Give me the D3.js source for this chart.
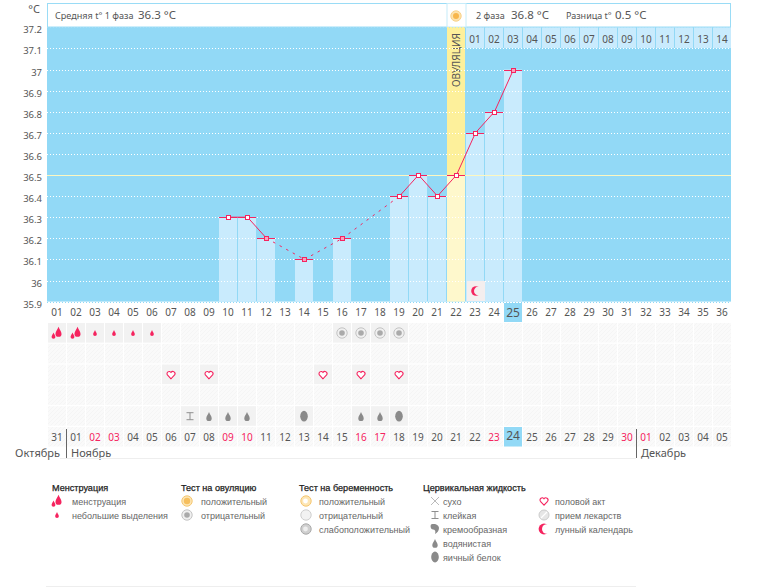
<!DOCTYPE html>
<html><head><meta charset="utf-8">
<script src="https://cdn.jsdelivr.net/npm/d3@7"></script>
<style>
html,body{margin:0;padding:0;background:#fff}
svg{display:block}
text{font-family:"Noto Sans",sans-serif;fill:#555}
.lg{font-family:"Liberation Sans",sans-serif;font-size:9px;fill:#666}
.lt{font-family:"Liberation Sans",sans-serif;font-size:9.1px;fill:#222;stroke:#222;stroke-width:.25px}
</style></head><body>
<svg id="c" width="769" height="587"></svg>
<script>
const cycleDays = d3.range(1, 37);
const temps = [null,null,null,null,null,null,null,null,null,36.3,36.3,36.2,null,36.1,null,36.2,null,null,36.4,36.5,36.4,36.5,36.7,36.8,37.0];
const filledMarkers = [12,14,16,25];
const yTicks = [37.2,37.1,37,36.9,36.8,36.7,36.6,36.5,36.4,36.3,36.2,36.1,36,35.9];
const secondPhaseLabels = ["01","02","03","04","05","06","07","08","09","10","11","12","13","14"];
const calendarLabels = ["31","01","02","03","04","05","06","07","08","09","10","11","12","13","14","15","16","17","18","19","20","21","22","23","24","25","26","27","28","29","30","01","02","03","04","05"];
const redCalendarCols = [3,4,10,11,17,18,24,31,32];
const ovulationDay = 22, today = 25, moonDay = 23;
const menstruationHeavy = [1,2], menstruationLight = [3,4,5,6];
const ovulationNegative = [16,17,18,19];
const intercourse = [7,9,15,17,19];
const sticky = [8], watery = [9,10,11,17,18], eggWhite = [14,19];
const months = [["Октябрь",60,"end"],["Ноябрь",71,"start"],["Декабрь",641,"start"]];
const monthDividerCols = [1.5,31.5];

const svg = d3.select("#c");
const x = d3.scaleLinear().domain([1,36]).range([57,722]);
const y = d3.scaleLinear().domain([37,36.5]).range([69.5,175]);
const colW = 18, plotLeft = 47, plotRight = 731, plotTop = 27, base = y(35.9);
const rowY = d3.scaleLinear().domain([0,1]).range([323,343.8]);
const pink = "#f5245f", blue = "#92d9f6", light = "#c9ebfd";

// icons
const defs = svg.append("defs");
const pat = defs.append("pattern").attr("id","hatch").attr("width",4).attr("height",4).attr("patternUnits","userSpaceOnUse");
pat.append("rect").attr("width",4).attr("height",4).attr("fill","#fafafa");
pat.append("path").attr("d","M0 4L4 0").attr("stroke","#f5f5f5").attr("stroke-width",1);
const drop = (cx,cy,s)=>`M${cx} ${cy-6*s}C${cx+1*s} ${cy-3*s} ${cx+3.2*s} ${cy-1*s} ${cx+3.2*s} ${cy+1.5*s}A${3.2*s} ${3*s} 0 0 1 ${cx-3.2*s} ${cy+1.5*s}C${cx-3.2*s} ${cy-1*s} ${cx-1*s} ${cy-3*s} ${cx} ${cy-6*s}Z`;
const icons = {
  heavy:g=>{g.append("path").attr("d",drop(1.5,-.5,.95)).attr("fill",pink);g.append("path").attr("d",drop(-3.5,3,.6)).attr("fill",pink);},
  light:g=>g.append("path").attr("d",drop(0,0.5,.58)).attr("fill",pink),
  ovNeg:g=>{g.append("circle").attr("r",5.2).attr("fill","#f0f0f0").attr("stroke","#c4c4c4");g.append("circle").attr("r",2.8).attr("fill","#aaa");},
  ovPos:g=>{g.append("circle").attr("r",5.2).attr("fill","#fde6b5").attr("stroke","#f5c670");g.append("circle").attr("r",3.2).attr("fill","#f6bf5e");},
  heart:g=>g.append("path").attr("d","M0 4.2L-3.6 .3A2.1 2.1 0 0 1 0 -2.2A2.1 2.1 0 0 1 3.6 .3Z").attr("fill","#fff").attr("stroke",pink).attr("stroke-width",1.1),
  sticky:g=>g.append("path").attr("d","M-3.5 -3.5H3.5M-3.5 3.5H3.5M0 -3.5V3.5").attr("stroke","#8f8f8f").attr("fill","none"),
  watery:g=>g.append("path").attr("d",drop(0,1,.85)).attr("fill","#8a8a8a"),
  egg:g=>g.append("ellipse").attr("rx",3.8).attr("ry",5.4).attr("fill","#8a8a8a"),
  dry:g=>g.append("path").attr("d","M-4 -4L4 4M4 -4L-4 4").attr("stroke","#aaa").attr("fill","none").attr("stroke-width",.8),
  creamy:g=>g.append("path").attr("d","M-4 -4.5C0 -6 4 -4 4 -1C4 2 2 4 0 5C1 2 0 .5 -2 .5C-4 .5 -5 -2.5 -4 -4.5Z").attr("fill","#8a8a8a"),
  moon:g=>{g.append("circle").attr("r",4.8).attr("fill",pink);g.append("circle").attr("cx",2.4).attr("r",4.4).attr("fill","#f4eeee");},
  moonL:g=>{g.append("circle").attr("r",5.4).attr("fill",pink);g.append("circle").attr("cx",2.8).attr("r",4.8).attr("fill","#fff");},
  pill:g=>{g.append("circle").attr("r",5).attr("fill","#e6e6e6").attr("stroke","#ccc");g.append("path").attr("d","M-3 3L3 -3").attr("stroke","#fff").attr("stroke-width",1.2);},
  pregPos:g=>{g.append("circle").attr("r",5.2).attr("fill","#fde6b5").attr("stroke","#f5c670");g.append("circle").attr("cx",-.5).attr("r",2.4).attr("fill","#fff");},
  pregNeg:g=>{g.append("circle").attr("r",5.2).attr("fill","#f2f2f2").attr("stroke","#cfcfcf");},
  pregWeak:g=>{g.append("circle").attr("r",5.2).attr("fill","#cfcfcf").attr("stroke","#aaa");g.append("circle").attr("cx",-.5).attr("r",2.4).attr("fill","#eee");},
  sun:g=>{g.append("circle").attr("r",5.2).attr("fill","#fde3ad").attr("stroke","#f8d28a");g.append("circle").attr("r",3).attr("fill","#f7b64c");}
};
const place = (name,px,py)=>{const g=svg.append("g").attr("transform",`translate(${px},${py})`);icons[name](g);};

// plot background and header
svg.append("rect").attr("x",plotLeft).attr("y",plotTop).attr("width",plotRight-plotLeft).attr("height",base-plotTop).attr("fill",blue);
svg.append("rect").attr("x",47.5).attr("y",3.5).attr("width",plotRight-plotLeft-1).attr("height",23.5).attr("fill","#fff").attr("stroke","#9adcf6");
svg.append("rect").attr("x",x(ovulationDay)-9).attr("y",3.5).attr("width",colW+1).attr("height",23.5).attr("fill","#fff").attr("stroke","#c6ecfa");
place("sun",x(ovulationDay),16);

// second-phase day header
svg.selectAll(".ph").data(secondPhaseLabels).join("rect")
  .attr("x",(d,i)=>x(ovulationDay+1+i)-9).attr("y",plotTop+.5).attr("width",colW).attr("height",20.5).attr("fill",light);
svg.selectAll(".phl").data(secondPhaseLabels).join("text")
  .attr("x",(d,i)=>x(ovulationDay+1+i)).attr("y",43).attr("text-anchor","middle").attr("font-size",10).text(d=>d);

// ovulation column
svg.append("rect").attr("x",x(ovulationDay)-9).attr("y",plotTop).attr("width",colW).attr("height",y(36.5)-plotTop).attr("fill","#fdf09b");
svg.append("rect").attr("x",x(ovulationDay)-9).attr("y",y(36.5)).attr("width",colW).attr("height",base-y(36.5)).attr("fill","#fef8cc");
svg.append("text").attr("transform",`translate(${x(ovulationDay)+3.5},33) rotate(-90)`).attr("text-anchor","end").attr("font-size",10).text("ОВУЛЯЦИЯ");

// bars
const pts = temps.map((t,i)=>({day:i+1,t})).filter(d=>d.t!==null);
svg.selectAll(".bar").data(pts.filter(d=>d.day!==ovulationDay)).join("rect")
  .attr("x",d=>x(d.day)-9).attr("y",d=>y(d.t)).attr("width",colW).attr("height",d=>base-y(d.t)).attr("fill",light);

// grid
svg.selectAll(".grid").data(yTicks).join("line")
  .attr("x1",plotLeft).attr("x2",plotRight).attr("y1",d=>Math.round(y(d))+.5).attr("y2",d=>Math.round(y(d))+.5)
  .attr("stroke",d=>d===37.2?"#a9e0f7":d===35.9?"#8fd8f6":"#fff").attr("stroke-width",1).attr("stroke-dasharray","1 2")
  .attr("opacity",d=>d===37.2?.8:1);
svg.append("line").attr("x1",plotLeft).attr("x2",plotRight).attr("y1",Math.round(y(36.5))+.5).attr("y2",Math.round(y(36.5))+.5).attr("stroke","#fdf7c0");

// moon cell
svg.append("rect").attr("x",x(moonDay)-8).attr("y",281).attr("width",18).attr("height",20).attr("fill","#f4eeee");
place("moon",x(moonDay)+1,291);

// y axis
const yAxis = d3.axisLeft(y).tickValues(yTicks).tickSize(0).tickPadding(0).tickFormat(d=>String(d));
const ax = svg.append("g").attr("transform","translate(42,2.5)").call(yAxis);
ax.select(".domain").remove();
ax.selectAll("text").attr("font-size",9.5);
svg.append("text").attr("x",40).attr("y",13).attr("text-anchor","end").attr("font-size",11).text("°C");

// line
const line = d3.line().x(d=>x(d.day)+.5).y(d=>y(d.t));
d3.pairs(pts).forEach(([a,b])=>{
  svg.append("path").attr("d",line([a,b])).attr("fill","none").attr("stroke",pink).attr("stroke-width",1)
    .attr("stroke-dasharray",b.day-a.day>1?"2.5 5":null);
});
svg.selectAll(".cap").data(pts).join("line")
  .attr("x1",d=>x(d.day)-9).attr("x2",d=>x(d.day)+9).attr("y1",d=>Math.round(y(d.t))+.5).attr("y2",d=>Math.round(y(d.t))+.5)
  .attr("stroke",pink);
svg.selectAll(".mk").data(pts).join("rect")
  .attr("x",d=>x(d.day)-1.5).attr("y",d=>Math.round(y(d.t))-1.5).attr("width",4).attr("height",4)
  .attr("fill",d=>filledMarkers.includes(d.day)?"#f9a0bc":"#fff").attr("stroke",pink);

// top date row
svg.append("rect").attr("x",x(today)-9).attr("y",303).attr("width",colW).attr("height",19).attr("fill",blue);
svg.selectAll(".d").data(cycleDays).join("text")
  .attr("x",d=>x(d)).attr("y",d=>d===today?317:316).attr("text-anchor","middle")
  .attr("font-size",d=>d===today?12:10).text(d=>String(d).padStart(2,"0"));

// event cells
const rows = d3.range(0,6);
rows.forEach(r=>{
  svg.selectAll(".cell"+r).data(cycleDays).join("rect")
    .attr("x",d=>x(d)-9).attr("y",rowY(r)).attr("width",colW).attr("height",19.5).attr("fill","url(#hatch)");
});
const events = [
  [menstruationHeavy,0,"heavy"],[menstruationLight,0,"light"],[ovulationNegative,0,"ovNeg"],
  [intercourse,2,"heart"],[sticky,4,"sticky"],[watery,4,"watery"],[eggWhite,4,"egg"]
];
events.forEach(([days,r,name])=>days.forEach(d=>{
  svg.append("rect").attr("x",x(d)-9).attr("y",rowY(r)).attr("width",colW).attr("height",19.5).attr("fill","#f2f2f2");
  place(name,x(d),rowY(r)+10);
}));

// calendar row
svg.append("rect").attr("x",x(today)-9).attr("y",rowY(5)).attr("width",colW).attr("height",19.5).attr("fill",blue);
svg.selectAll(".cal").data(calendarLabels).join("text")
  .attr("x",(d,i)=>x(i+1)).attr("y",(d,i)=>i+1===today?440:441).attr("text-anchor","middle")
  .attr("font-size",(d,i)=>i+1===today?12:10)
  .style("fill",(d,i)=>redCalendarCols.includes(i+1)?pink:"#555").text(d=>d);
svg.selectAll(".md").data(monthDividerCols).join("line")
  .attr("x1",d=>Math.round(x(d))-.5).attr("x2",d=>Math.round(x(d))-.5).attr("y1",429).attr("y2",458).attr("stroke","#666");
svg.selectAll(".mn").data(months).join("text")
  .attr("x",d=>d[1]).attr("y",457).attr("text-anchor",d=>d[2]).attr("font-size",11).text(d=>d[0]);
svg.append("line").attr("x1",60).attr("x2",636).attr("y1",458.5).attr("y2",458.5).attr("stroke","#eee");

// header texts
const hdr=(t,px,fs)=>svg.append("text").attr("x",px).attr("y",19).attr("font-size",fs).text(t);
hdr("Средняя t° 1 фаза",55,9.1); hdr("36.3 °C",138,11.5);
hdr("2 фаза",476,9.1); hdr("36.8 °C",511,11.5);
hdr("Разница t°",566,9); hdr("0.5 °C",615,11.5);

// legend
const legendTitles = [["Менструация",52],["Тест на овуляцию",181],["Тест на беременность",299],["Цервикальная жидкость",423]];
const legendItems = [
  ["heavy",57,72,"менструация",0],["light",57,72,"небольшие выделения",1],
  ["ovPos",187,201,"положительный",0],["ovNeg",187,201,"отрицательный",1],
  ["pregPos",306,319,"положительный",0],["pregNeg",306,319,"отрицательный",1],["pregWeak",306,319,"слабоположительный",2],
  ["dry",435,443,"сухо",0],["sticky",435,443,"клейкая",1],["creamy",435,443,"кремообразная",2],["watery",435,443,"водянистая",3],["egg",435,443,"яичный белок",4],
  ["heart",544,555,"половой акт",0],["pill",544,555,"прием лекарств",1],["moonL",544,555,"лунный календарь",2]
];
svg.selectAll(".lt").data(legendTitles).join("text").attr("class","lt").attr("x",d=>d[1]).attr("y",490.5).text(d=>d[0]);
legendItems.forEach(([ic,ix,tx,label,r])=>{
  const cy=501+14*r;
  place(ic,ix,cy);
  svg.append("text").attr("class","lg").attr("x",tx).attr("y",cy+3.5).text(label);
});
svg.append("line").attr("x1",46).attr("x2",636).attr("y1",586.5).attr("y2",586.5).attr("stroke","#eee");
</script></body></html>
